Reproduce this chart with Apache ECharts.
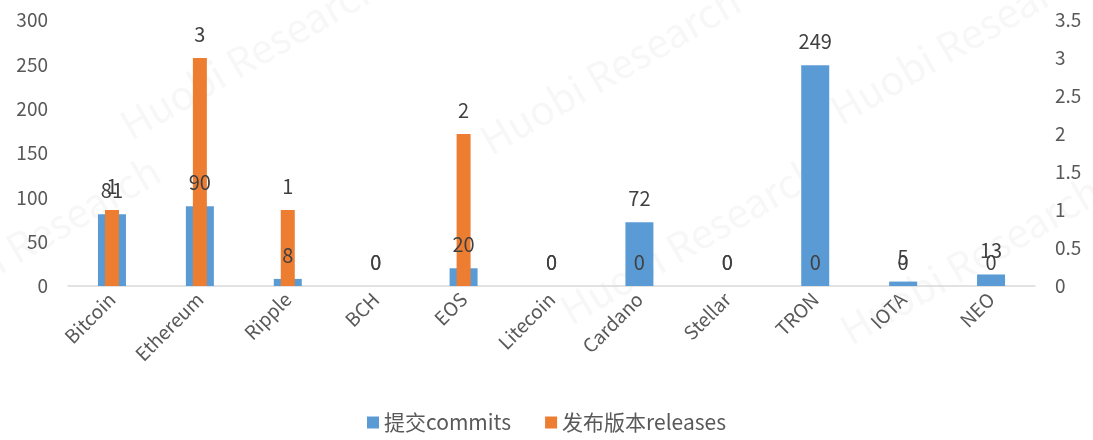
<!DOCTYPE html>
<html>
<head>
<meta charset="utf-8">
<script src="https://cdn.jsdelivr.net/npm/echarts@6/dist/echarts.min.js"></script>
<style>
  html, body { margin: 0; padding: 0; background: #fff; }
  #chart { width: 1093px; height: 440px; }
</style>
</head>
<body>
<div id="chart"></div>
<script>
var categories = ['Bitcoin', 'Ethereum', 'Ripple', 'BCH', 'EOS', 'Litecoin', 'Cardano', 'Stellar', 'TRON', 'IOTA', 'NEO'];
var commits = [81, 90, 8, 0, 20, 0, 72, 0, 249, 5, 13];
var releases = [1, 3, 1, 0, 2, 0, 0, 0, 0, 0, 0];
var seriesNames = ['提交commits', '发布版本releases'];

var font = '"Noto Sans CJK SC", "Liberation Sans", sans-serif';

// 水印
var marks = [];
[[250, 55], [610, 70], [960, 40], [690, 240], [970, 260], [30, 240]].forEach(function (p) {
    marks.push({
        type: 'text',
        x: p[0], y: p[1],
        rotation: Math.PI / 6,
        style: {
            text: 'Huobi Research',
            font: '40px ' + font,
            fill: 'rgba(190,190,190,0.12)',
            align: 'center',
            verticalAlign: 'middle'
        },
        silent: true,
        z: -1
    });
});

var chart = echarts.init(document.getElementById('chart'));
var option = {
    animation: false,
    textStyle: { fontFamily: font },
    graphic: marks,
    legend: {
        data: seriesNames,
        bottom: 2,
        left: 'center',
        itemWidth: 12,
        itemHeight: 12,
        itemGap: 34,
        icon: 'rect',
        textStyle: { fontSize: 21, color: '#595959', fontFamily: font }
    },
    grid: { left: 68, right: 58, top: 20, bottom: 154 },
    xAxis: [
        {
            type: 'category',
            data: categories,
            axisLine: { lineStyle: { color: '#d9d9d9', width: 1.5 } },
            axisTick: { show: false },
            axisLabel: { rotate: 45, fontSize: 19, color: '#595959', margin: 10 }
        },
        {
            type: 'category',
            data: categories,
            position: 'bottom',
            show: false
        }
    ],
    yAxis: [
        {
            type: 'value', min: 0, max: 300, interval: 50,
            splitLine: { show: false },
            axisLine: { show: false },
            axisLabel: { fontSize: 19, color: '#595959', margin: 20 }
        },
        {
            type: 'value', min: 0, max: 3.5, interval: 0.5,
            splitLine: { show: false },
            axisLine: { show: false },
            axisLabel: { fontSize: 19, color: '#595959', margin: 20 }
        }
    ],
    series: [
        {
            name: seriesNames[0],
            type: 'bar',
            xAxisIndex: 0,
            yAxisIndex: 0,
            barWidth: 28,
            data: commits,
            itemStyle: { color: '#5B9BD5' },
            label: { show: true, position: 'top', distance: 14, fontSize: 20, color: '#404040' }
        },
        {
            name: seriesNames[1],
            type: 'bar',
            xAxisIndex: 1,
            yAxisIndex: 1,
            barWidth: 14,
            data: releases,
            itemStyle: { color: '#ED7D31' },
            label: { show: true, position: 'top', distance: 14, fontSize: 20, color: '#404040' }
        }
    ]
};
chart.setOption(option);
</script>
</body>
</html>
